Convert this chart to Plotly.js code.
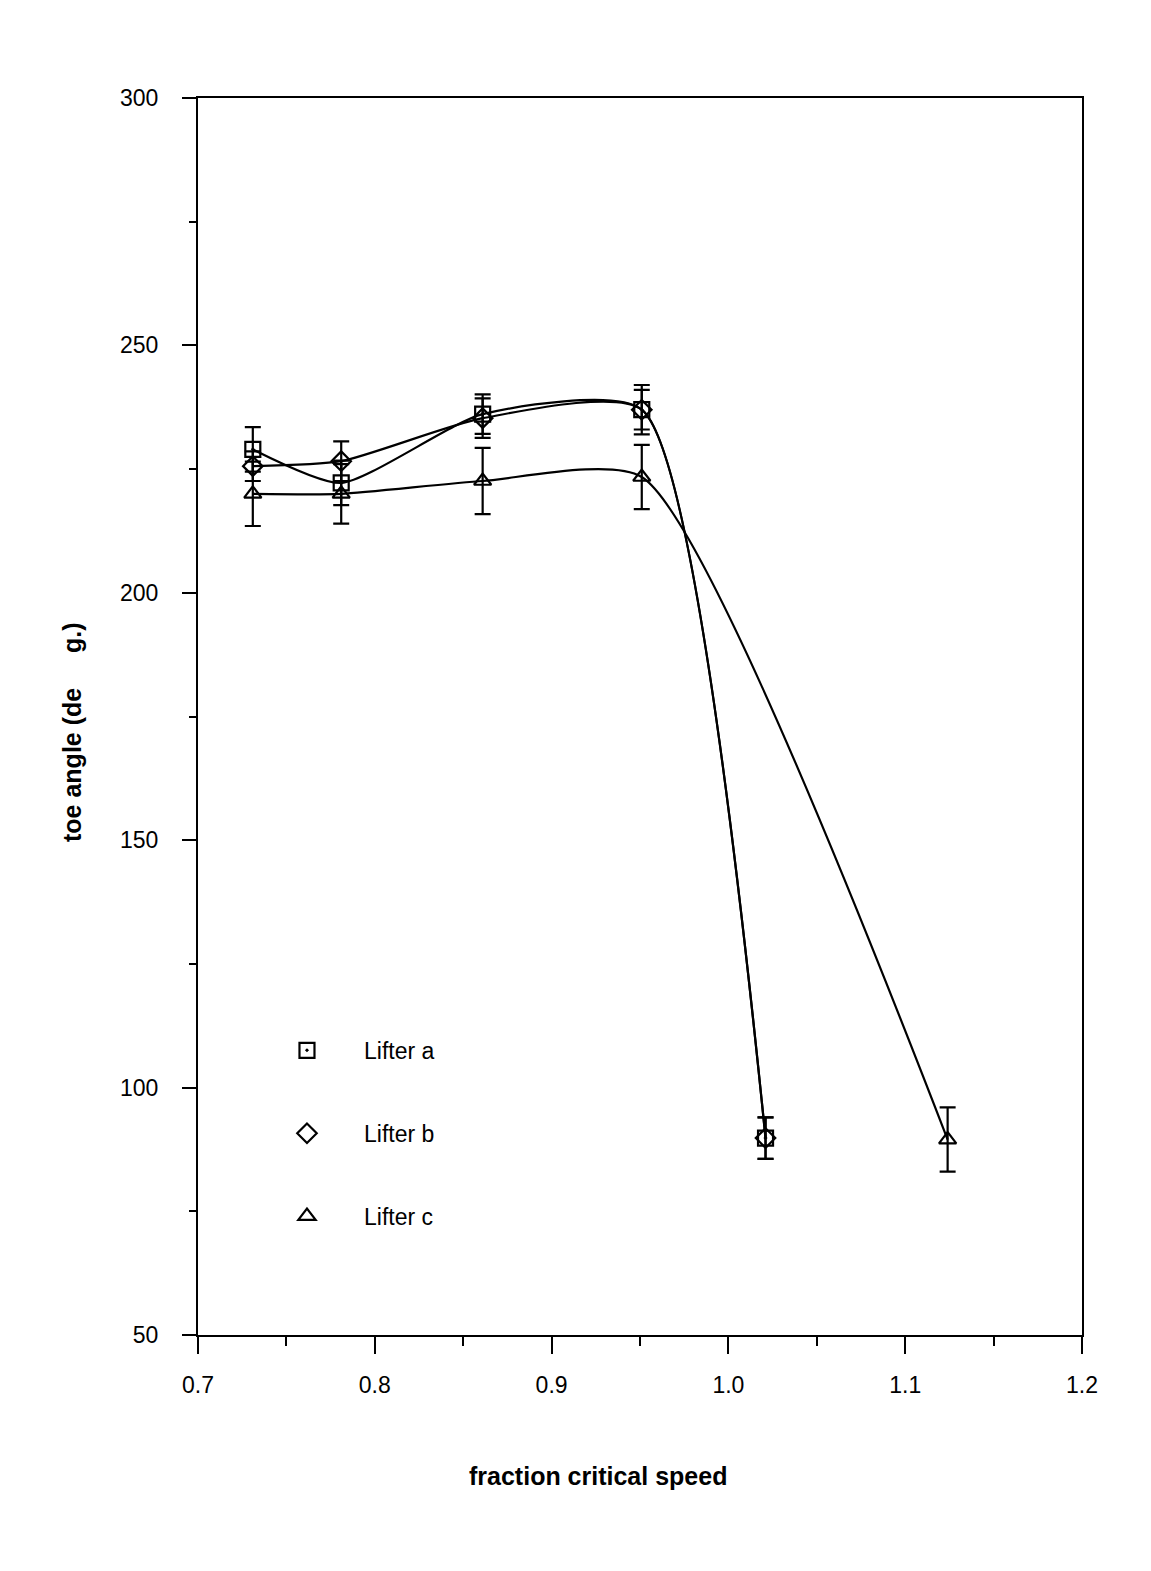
<!DOCTYPE html>
<html>
<head>
<meta charset="utf-8">
<script src="https://cdn.plot.ly/plotly-3.0.1.min.js"></script>
<style>body{margin:0;background:#fff}#chart{width:1151px;height:1571px}</style>
</head>
<body>
<div id="chart"></div>
<script>
// fraction of critical speed (x)
const xA = [0.731, 0.781, 0.861, 0.951, 1.021];
const xB = [0.731, 0.781, 0.861, 0.951, 1.021];
const xC = [0.731, 0.781, 0.861, 0.951, 1.124];
// toe angle (deg.)
const yA = [229.0, 222.2, 236.1, 237.0, 89.8];
const yB = [225.6, 226.6, 235.3, 237.0, 89.8];
const yC = [220.0, 220.0, 222.6, 223.4, 89.5];
// error bar half-lengths
const eA = [4.5, 4.5, 4.0, 5.0, 4.2];
const eB = [3.0, 4.0, 4.0, 4.0, 4.2];
const eC = [6.5, 6.0, 6.7, 6.5, 6.5];
const names = ['Lifter a', 'Lifter b', 'Lifter c'];
const symbols = ['square-open-dot', 'diamond-open', 'triangle-up-open'];

const series = [[xA, yA, eA], [xB, yB, eB], [xC, yC, eC]];
const traces = [];
series.forEach(([x, y, e], i) => {
  traces.push({
    x: x, y: y, type: 'scatter', mode: 'lines',
    line: {color: '#000', width: 2.2, shape: 'spline', smoothing: 0.6},
    showlegend: false, hoverinfo: 'skip'
  });
});
series.forEach(([x, y, e], i) => {
  traces.push({
    x: x, y: y, type: 'scatter', mode: 'markers', name: names[i],
    legendgroup: 'g' + i,
    marker: {symbol: symbols[i], size: 15, color: '#000', line: {color: '#000', width: 2.2}},
    error_y: {type: 'data', array: e, visible: true, color: '#000', thickness: 2.2, width: 8}
  });
});

const tickFont = {family: 'Liberation Sans, Arial, sans-serif', size: 23, color: '#000'};
const legFont = {family: 'Liberation Sans, Arial, sans-serif', size: 23, color: '#000'};
const titleFont = {family: 'Liberation Sans, Arial, sans-serif', size: 25, color: '#000'};
const layout = {
  width: 1151, height: 1571,
  margin: {l: 198, r: 69, t: 98, b: 236},
  paper_bgcolor: '#fff', plot_bgcolor: '#fff',
  showlegend: true,
  legend: {
    x: 0.0588, y: 0.2475, xanchor: 'left', yanchor: 'top',
    bgcolor: 'rgba(0,0,0,0)', font: legFont,
    traceorder: 'grouped', tracegroupgap: 50, itemwidth: 104
  },
  xaxis: {
    range: [0.7, 1.2], tickvals: [0.7, 0.8, 0.9, 1.0, 1.1, 1.2],
    ticktext: ['0.7', '0.8', '0.9', '1.0', '1.1', '1.2'],
    ticks: 'outside', ticklen: 17, tickwidth: 2, tickcolor: '#000', ticklabelstandoff: 11,
    minor: {tickvals: [0.75, 0.85, 0.95, 1.05, 1.15], ticks: 'outside', ticklen: 9, tickwidth: 2, tickcolor: '#000'},
    showline: true, linecolor: '#000', linewidth: 2, mirror: true,
    showgrid: false, zeroline: false, tickfont: tickFont
  },
  yaxis: {
    range: [50, 300], tickvals: [50, 100, 150, 200, 250, 300],
    ticks: 'outside', ticklen: 14, tickwidth: 2, tickcolor: '#000', ticklabelstandoff: 19,
    minor: {tickvals: [75, 125, 175, 225, 275], ticks: 'outside', ticklen: 7, tickwidth: 2, tickcolor: '#000'},
    showline: true, linecolor: '#000', linewidth: 2, mirror: true,
    showgrid: false, zeroline: false, tickfont: tickFont
  },
  annotations: [
    {text: '<b>fraction critical speed</b>', xref: 'paper', yref: 'paper',
     x: (598 - 198) / 884, y: -(1476 - 1335) / 1237, xanchor: 'center', yanchor: 'middle',
     showarrow: false, font: titleFont},
    {text: '<b>toe angle (de\u00a0\u00a0\u00a0\u00a0\u00a0g.)</b>', xref: 'paper', yref: 'paper',
     x: -(198 - 72) / 884, y: (1335 - 733) / 1237, xanchor: 'center', yanchor: 'middle',
     textangle: -90, showarrow: false, font: titleFont}
  ]
};
Plotly.newPlot('chart', traces, layout, {displayModeBar: false, staticPlot: true});
</script>
</body>
</html>
